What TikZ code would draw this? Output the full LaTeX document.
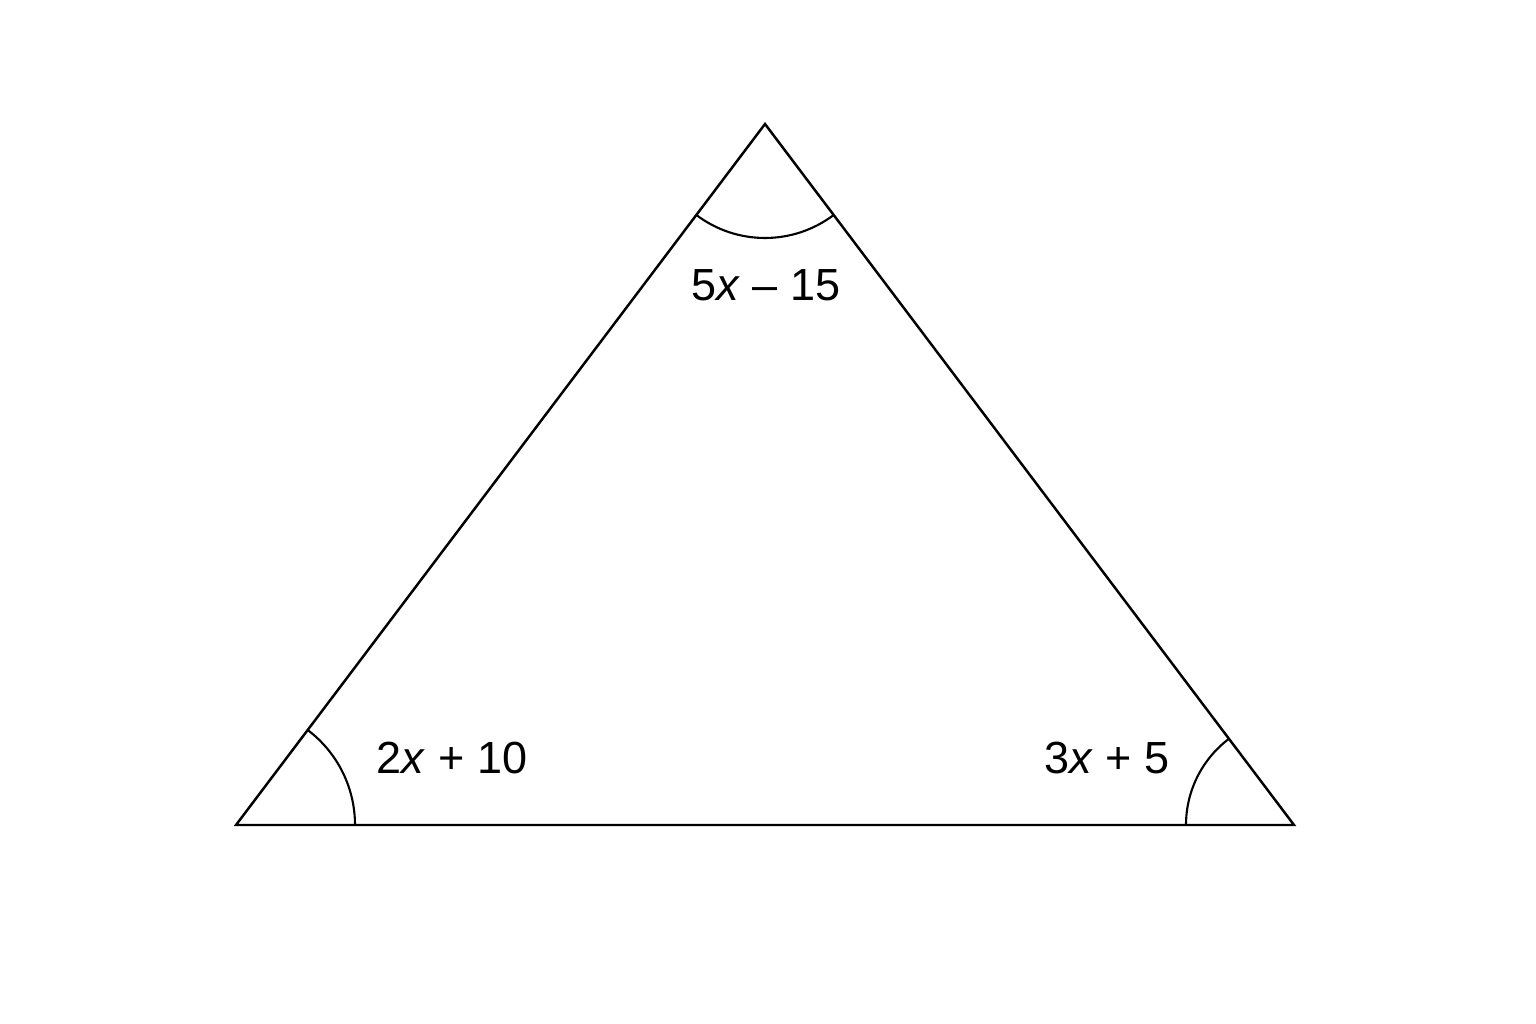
\documentclass[tikz,border=0pt]{standalone}
\usepackage{fontspec}
\setmainfont{Liberation Sans}

\begin{document}
\begin{tikzpicture}[x=0.01cm, y=0.01cm]
  \tikzstyle{side}=[draw, line width=0.7pt, line join=miter]
  \tikzstyle{anglearc}=[draw, line width=0.6pt]
  \tikzstyle{anglelabel}=[inner sep=0pt, font=\fontsize{12.8}{15}\selectfont]
  \useasboundingbox (0,0) rectangle (1536,1024);
  \coordinate (A) at (236,199);
  \coordinate (B) at (1294,199);
  \coordinate (C) at (765,900);
  \draw[side] (A) -- (B) -- (C) -- cycle;
  % angle marks
  \draw[anglearc] (A) ++(0:119) arc (0:52.96:119);
  \draw[anglearc] (B) ++(127.04:108) arc (127.04:180:108);
  \draw[anglearc] (C) ++(232.96:114) arc (232.96:307.04:114);
  \node[anglelabel] (la) at (452,266) {2\textit{x} + 10};
  \node[anglelabel] (lb) at (1107,266) {3\textit{x} + 5};
  \node[anglelabel] (lc) at (766,739) {5\textit{x} – 15};
\end{tikzpicture}
\end{document}
